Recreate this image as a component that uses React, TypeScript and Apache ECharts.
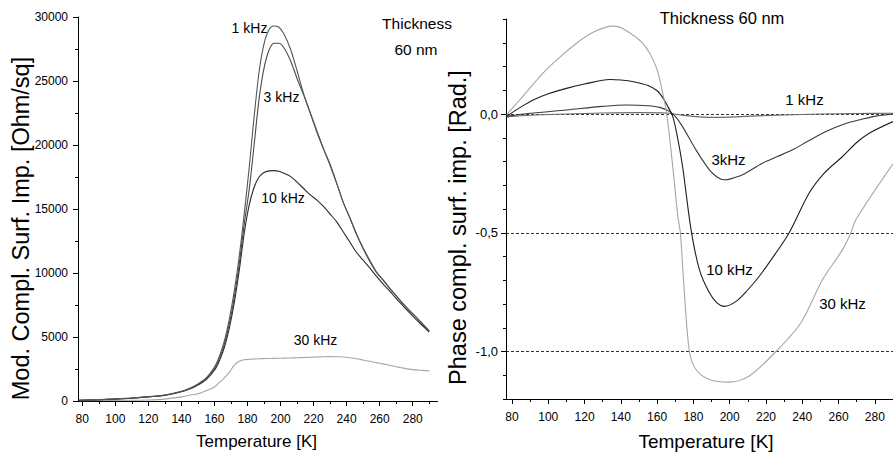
import React, { useEffect, useRef } from "react";
import * as echarts from "echarts";

// ---------- Left panel: modulus of complex surface impedance ----------
const modTemps = [78, 90, 100, 110, 120, 130, 140, 145, 150, 155, 160, 163, 166, 169, 172, 175, 178, 181, 184, 187, 190, 193, 196, 199, 202, 206, 210, 214, 218, 222, 226, 230, 234, 238, 242, 246, 250, 254, 258, 262, 266, 270, 274, 278, 282, 286, 290];
const mod1k = [60, 110, 170, 240, 340, 470, 760, 990, 1330, 1800, 2650, 3500, 4700, 6400, 8600, 11300, 14600, 18200, 22200, 25700, 27900, 29000, 29300, 29200, 28700, 27500, 25800, 24000, 22500, 21000, 19700, 18500, 17000, 15500, 14300, 13000, 11900, 10900, 10050, 9450, 8800, 8200, 7600, 7050, 6550, 6000, 5450];
const mod3k = [60, 100, 160, 230, 330, 450, 740, 960, 1290, 1750, 2550, 3350, 4450, 6000, 8100, 10700, 13800, 16500, 20000, 23600, 26000, 27400, 27950, 27950, 27600, 26600, 25200, 23900, 22500, 21100, 19700, 18400, 17000, 15500, 14300, 13050, 11950, 11000, 10100, 9480, 8830, 8230, 7630, 7080, 6570, 6020, 5470];
const mod10k = [50, 100, 150, 220, 320, 440, 720, 930, 1250, 1680, 2400, 3150, 4200, 5700, 7700, 10200, 13100, 15300, 16700, 17500, 17850, 17980, 18000, 17950, 17800, 17550, 17100, 16600, 16100, 15700, 15200, 14600, 14000, 13200, 12400, 11600, 11000, 10400, 9750, 9150, 8600, 8000, 7450, 6900, 6380, 5880, 5380];
const mod30k = [20, 40, 50, 60, 80, 150, 320, 450, 560, 800, 1100, 1450, 1800, 2250, 2800, 3100, 3220, 3260, 3280, 3300, 3310, 3320, 3330, 3340, 3350, 3360, 3380, 3400, 3420, 3440, 3460, 3470, 3460, 3440, 3380, 3300, 3200, 3100, 3000, 2900, 2790, 2680, 2580, 2490, 2430, 2390, 2350];

// ---------- Right panel: phase of complex surface impedance ----------
const phase1k = [[77, -0.012], [90, -0.005], [110, 0.0], [130, 0.004], [150, 0.006], [165, 0.004], [172, -0.003], [180, -0.01], [190, -0.014], [200, -0.013], [215, -0.008], [230, -0.004], [250, 0.0], [270, 0.002], [290, 0.003]];
const phase3k = [[77, -0.01], [90, 0.003], [110, 0.017], [130, 0.032], [143, 0.038], [155, 0.035], [161.5, 0.028], [167, 0.01], [170, -0.01], [174, -0.053], [181.4, -0.151], [188.8, -0.235], [193, -0.265], [197, -0.277], [201, -0.272], [207, -0.256], [218, -0.207], [226, -0.18], [234.6, -0.151], [243, -0.115], [253, -0.074], [262, -0.045], [271.3, -0.025], [280, -0.01], [290, 0.0]];
const phase10k = [[77, -0.01], [85, 0.03], [92, 0.06], [100, 0.085], [110, 0.108], [120, 0.126], [134, 0.145], [140, 0.143], [147, 0.136], [155, 0.12], [160, 0.098], [163, 0.07], [166, 0.03], [168.6, -0.01], [171, -0.09], [174, -0.22], [178.7, -0.487], [183.3, -0.655], [188.8, -0.753], [193, -0.795], [197, -0.81], [203.5, -0.789], [210, -0.74], [216.3, -0.683], [225, -0.59], [232.8, -0.5], [243.8, -0.333], [252, -0.25], [262.2, -0.179], [270, -0.12], [276.9, -0.081], [290, -0.032]];
const phase30k = [[77, -0.004], [84.2, 0.059], [97, 0.171], [105, 0.23], [115.4, 0.297], [125, 0.345], [135.6, 0.37], [141, 0.36], [152.1, 0.297], [159.4, 0.199], [163.1, 0.087], [165.3, 0.0], [168.6, -0.221], [171.4, -0.43], [172.8, -0.5], [175, -0.75], [177.8, -1.0], [181.4, -1.076], [188.8, -1.118], [199.8, -1.129], [210.8, -1.103], [225.5, -1.0], [239.2, -0.88], [251.2, -0.697], [262.2, -0.571], [266.8, -0.5], [269.5, -0.445], [290, -0.21]];

// ---------- Ticks / labels ----------
const xMajorTicks = [80, 100, 120, 140, 160, 180, 200, 220, 240, 260, 280];
const xMinorTicks = [90, 110, 130, 150, 170, 190, 210, 230, 250, 270, 290];
const phaseLabelTicks = [-1.0, -0.5, 0.0];
const phaseMinorTicks = [-1.2, -1.1, -0.9, -0.8, -0.7, -0.6, -0.4, -0.3, -0.2, -0.1, 0.1, 0.2, 0.3, 0.4];
const dashLevels = [0.0, -0.5, -1.0];

const FONT = "'Liberation Sans', Arial, Helvetica, sans-serif";

const zip = (xs: number[], ys: number[]) => xs.map((x, i) => [x, ys[i]]);

export default function App() {
  const ref = useRef<HTMLDivElement>(null);

  useEffect(() => {
    if (!ref.current) return;
    const chart = echarts.init(ref.current, undefined, { renderer: "svg" });

    const axisLine = { show: true, onZero: false, lineStyle: { color: "#000", width: 1 } };
    const lbl = (size: number, margin: number) => ({ color: "#000", fontSize: size, fontFamily: FONT, margin });

    const lineSeries = (name: string, data: number[][], color: string, xi: number, yi: number, extra: any = {}) => ({
      type: "line",
      name,
      data,
      xAxisIndex: xi,
      yAxisIndex: yi,
      showSymbol: false,
      symbol: "none",
      smooth: 0.3,
      lineStyle: { color, width: 1.1 },
      itemStyle: { color },
      z: 3,
      ...extra,
    });

    const text = (t: string, x: number, y: number, size: number, rotate = 0) => ({
      type: "text",
      x,
      y,
      rotation: rotate,
      style: {
        text: t,
        fontSize: size,
        fontFamily: FONT,
        fill: "#000",
        align: "center",
        verticalAlign: "middle",
      },
    });

    chart.setOption({
      animation: false,
      backgroundColor: "#fff",
      grid: [
        { left: 78, top: 17, width: 359.5, height: 384, containLabel: false },
        { left: 506, top: 19, width: 387.5, height: 380, containLabel: false },
      ],
      xAxis: [
        {
          type: "value", gridIndex: 0, min: 77.4, max: 295,
          axisLine,
          axisTick: { show: true, customValues: xMajorTicks, length: 5, lineStyle: { color: "#000" } },
          axisLabel: { ...lbl(12, 12), customValues: xMajorTicks, formatter: (v: number) => String(v) },
          splitLine: { show: false },
        },
        {
          type: "value", gridIndex: 0, min: 77.4, max: 295, position: "bottom",
          axisLine: { show: false, onZero: false },
          axisTick: { show: true, customValues: xMinorTicks, length: 3, lineStyle: { color: "#000" } },
          axisLabel: { show: false },
          splitLine: { show: false },
        },
        {
          type: "value", gridIndex: 1, min: 76.7, max: 290,
          axisLine,
          axisTick: { show: true, customValues: xMajorTicks, length: 5, lineStyle: { color: "#000" } },
          axisLabel: { ...lbl(12, 12), customValues: xMajorTicks, formatter: (v: number) => String(v) },
          splitLine: { show: false },
        },
        {
          type: "value", gridIndex: 1, min: 76.7, max: 290, position: "bottom",
          axisLine: { show: false, onZero: false },
          axisTick: { show: true, customValues: xMinorTicks, length: 3, lineStyle: { color: "#000" } },
          axisLabel: { show: false },
          splitLine: { show: false },
        },
      ],
      yAxis: [
        {
          type: "value", gridIndex: 0, min: 0, max: 30000, interval: 5000,
          axisLine,
          axisTick: { show: true, length: 5, lineStyle: { color: "#000" } },
          minorTick: { show: true, splitNumber: 2, length: 3, lineStyle: { color: "#000" } },
          axisLabel: { ...lbl(12, 10), formatter: (v: number) => String(v) },
          splitLine: { show: false },
        },
        {
          type: "value", gridIndex: 1, min: -1.2, max: 0.4,
          axisLine,
          axisTick: { show: true, customValues: phaseLabelTicks, length: 5, lineStyle: { color: "#000" } },
          axisLabel: {
            ...lbl(13, 8),
            customValues: phaseLabelTicks,
            formatter: (v: number) => v.toFixed(1).replace(".", ","),
          },
          splitLine: { show: false },
        },
        {
          type: "value", gridIndex: 1, min: -1.2, max: 0.4, position: "left",
          axisLine: { show: false, onZero: false },
          axisTick: { show: true, customValues: phaseMinorTicks, length: 3, lineStyle: { color: "#000" } },
          axisLabel: { show: false },
          splitLine: { show: false },
        },
      ],
      series: [
        lineSeries("30 kHz", zip(modTemps, mod30k), "#a6a6a6", 0, 0),
        lineSeries("10 kHz", zip(modTemps, mod10k), "#2a2a2a", 0, 0),
        lineSeries("3 kHz", zip(modTemps, mod3k), "#4a4a4a", 0, 0),
        lineSeries("1 kHz", zip(modTemps, mod1k), "#555555", 0, 0),
        lineSeries("1 kHz phase", phase1k, "#6a6a6a", 2, 1, {
          markLine: {
            silent: true,
            symbol: "none",
            label: { show: false },
            lineStyle: { type: [3, 2], color: "#000", width: 0.8 },
            data: dashLevels.map((v) => ({ yAxis: v })),
            z: 2,
          },
        }),
        lineSeries("3 kHz phase", phase3k, "#3a3a3a", 2, 1),
        lineSeries("10 kHz phase", phase10k, "#1e1e1e", 2, 1),
        lineSeries("30 kHz phase", phase30k, "#a6a6a6", 2, 1),
      ],
      graphic: [
        text("Mod. Compl. Surf. Imp. [Ohm/sq]", 21, 228.5, 23.5, Math.PI / 2),
        text("Phase compl. surf. imp. [Rad.]", 458, 227.5, 23.5, Math.PI / 2),
        text("Temperature [K]", 256.5, 441, 17),
        text("Temperature [K]", 706, 441, 19),
        text("1 kHz", 249.5, 28, 14),
        text("3 kHz", 281.5, 97, 14),
        text("10 kHz", 283, 198, 14),
        text("30 kHz", 315.5, 340, 14),
        text("Thickness", 417, 23, 15.5),
        text("60 nm", 416, 49, 15.5),
        text("Thickness 60 nm", 722, 18, 16.5),
        text("1 kHz", 804.5, 99, 15),
        text("3kHz", 728.5, 159, 15),
        text("10 kHz", 729.5, 269, 15),
        text("30 kHz", 842.5, 303, 15),
      ],
    });

    return () => chart.dispose();
  }, []);

  return (
    <div
      ref={ref}
      style={{ position: "fixed", left: 0, top: 0, width: 893, height: 456, background: "#fff" }}
    />
  );
}
